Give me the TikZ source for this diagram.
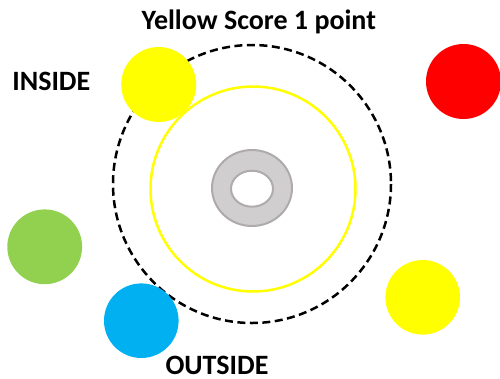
\documentclass[tikz,border=0pt]{standalone}
\usepackage{fontspec}
\setmainfont{Carlito}
\begin{document}
\begin{tikzpicture}[x=1pt,y=-1pt,
  lbl/.style={font=\fontsize{28}{32}\selectfont\bfseries,inner sep=0pt,anchor=base}]
\definecolor{ballyellow}{RGB}{255,255,0}
\definecolor{ballred}{RGB}{255,0,0}
\definecolor{ballgreen}{RGB}{146,208,80}
\definecolor{ballblue}{RGB}{0,176,240}
\definecolor{donutfill}{RGB}{208,206,206}
\definecolor{donutedge}{RGB}{175,171,171}
\useasboundingbox (0,0) rectangle (500,378);
% dashed zone
\draw[line width=2.5pt,dash pattern=on 8pt off 4.5pt] (252,184) circle (139);
% yellow ring
\draw[ballyellow,line width=2.5pt] (253,189) circle (102.5);
% donut
\path[fill=donutfill,even odd rule] (252,188) ellipse (40 and 38) (252,188.7) ellipse (21 and 18);
\draw[donutedge,line width=2pt] (252,188) ellipse (40 and 38);
\draw[donutedge,line width=2pt] (252,188.7) ellipse (21 and 18);
% balls
\fill[ballyellow] (158.7,84.5) circle (37.5);
\fill[ballred] (463.5,81.5) circle (37.5);
\fill[ballgreen] (44.7,246.8) circle (37.4);
\fill[ballblue] (141.3,320.7) circle (37.3);
\fill[ballyellow] (422.7,297.3) circle (37.3);
% labels
\node[lbl] (title) at (258.8,29.3) {Yellow Score 1 point};
\node[lbl] (inside) at (51.3,90) {INSIDE};
\node[lbl,text depth=0pt] (outside) at (217,374) {OUTSIDE};
\end{tikzpicture}
\end{document}
